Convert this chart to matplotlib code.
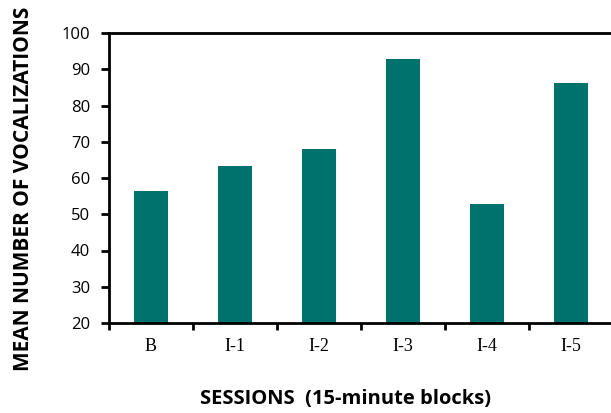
import matplotlib
matplotlib.use("Agg")
import matplotlib.pyplot as plt

sessions = ["B", "I-1", "I-2", "I-3", "I-4", "I-5"]
mean_vocalizations = [56.3, 63.4, 68.0, 92.9, 52.9, 86.2]
y_ticks = [20, 30, 40, 50, 60, 70, 80, 90, 100]

bar_color = "#00726e"

fig = plt.figure(figsize=(6.11, 4.13), dpi=100)
ax = fig.add_axes([109 / 611, 90 / 413, 504 / 611, 290 / 413])

x = range(len(sessions))
ax.bar(x, mean_vocalizations, width=0.4, color=bar_color, zorder=2)

ax.set_xlim(-0.5, len(sessions) - 0.5)
ax.set_ylim(20, 100)
ax.set_yticks(y_ticks)
ax.set_yticklabels([str(v) for v in y_ticks], fontfamily="Open Sans", fontsize=12)

# ticks on the x axis sit between categories
ax.set_xticks([i - 0.5 for i in range(len(sessions))])
ax.set_xticklabels([])
ax.set_xticks(list(x), minor=True)
ax.set_xticklabels(sessions, minor=True, fontfamily="Liberation Serif", fontsize=13)
ax.tick_params(axis="x", which="minor", length=0, pad=11)
ax.tick_params(axis="x", which="major", length=5, width=2, direction="out")
ax.tick_params(axis="y", length=5.5, width=2, direction="out", pad=8)

for s in ["left", "bottom", "top"]:
    ax.spines[s].set_linewidth(2)
ax.spines["right"].set_visible(False)

# axis titles placed in figure coords
fig.text(345 / 611, 1 - 399 / 413, "SESSIONS  (15-minute blocks)", fontfamily="Open Sans",
         fontweight="bold", fontsize=14.5, ha="center", va="center")
fig.text(24 / 611, 1 - 189 / 413, "MEAN NUMBER OF VOCALIZATIONS", fontfamily="Open Sans",
         fontweight="bold", fontsize=15, ha="center", va="center", rotation=90)

fig.savefig("out.png", dpi=100)
